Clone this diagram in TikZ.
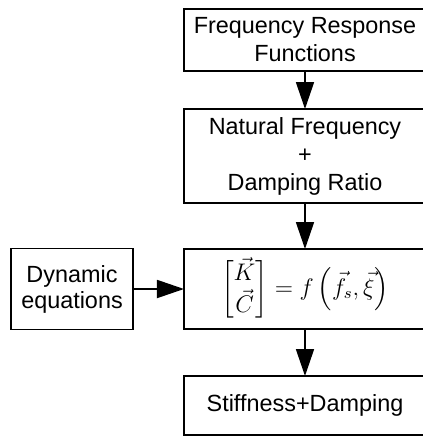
\documentclass[tikz,border=0pt]{standalone}
\usepackage{amsmath}
\usepackage{fontspec}
\setmainfont{Liberation Sans}
\usetikzlibrary{arrows.meta,positioning}

\begin{document}
\begin{tikzpicture}[
  >={Triangle[length=13.5pt,width=9pt]},
  line width=0.9pt,
  box/.style={draw, align=center, outer sep=0pt, inner sep=2pt, minimum width=121pt,
    font=\fontsize{11.7}{14}\selectfont},
]
\clip (0,0) rectangle (211.5pt,-218pt);
\node[box,minimum height=31pt] at (152.5pt,-20pt) (frf) {Frequency Response\\Functions};
\node[box,minimum height=47pt,below=19pt of frf] (nat) {Natural Frequency\\+\\Damping Ratio};
\node[box,minimum height=40pt,below=23pt of nat] (eq)
  {$\left[\begin{matrix}\vec{K}\\ \vec{C}\end{matrix}\right]=f\left(\vec{f}_s,\vec{\xi}\right)$};
\node[box,minimum height=29.5pt,below=23.5pt of eq] (kc) {Stiffness+Damping};
\foreach \a/\b in {frf/nat,nat/eq,eq/kc} \draw[->] (\a)--(\b);
% side input into the identification step
\node[box,minimum width=61pt,minimum height=40.5pt,font=\fontsize{11.7}{13}\selectfont,
  left=25.5pt of eq] (dyn) {Dynamic\\equations};
\draw[->] (dyn)--(eq);
\end{tikzpicture}
\end{document}
